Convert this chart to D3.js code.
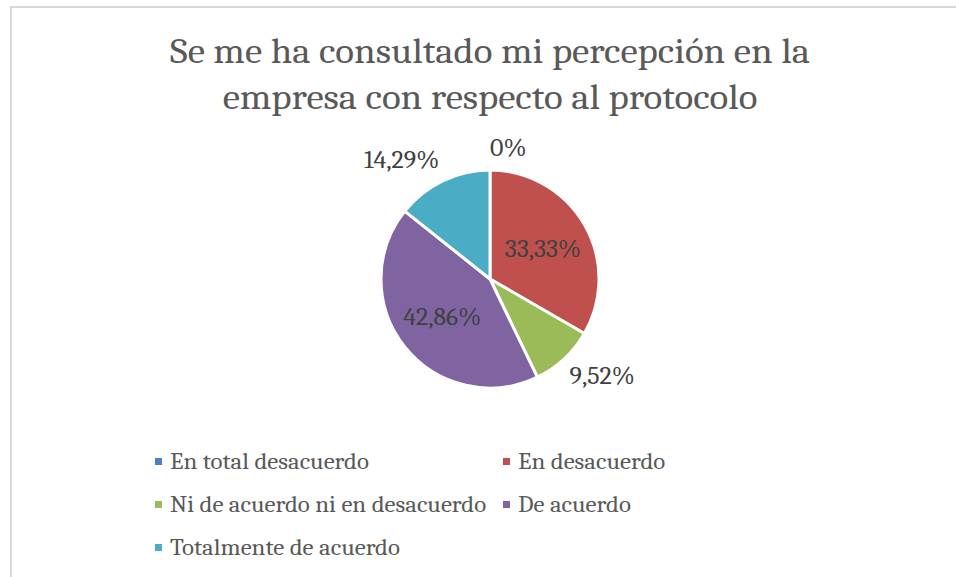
<!DOCTYPE html>
<html>
<head>
<meta charset="utf-8">
<script src="https://cdn.jsdelivr.net/npm/d3@7"></script>
<style>
    html, body { margin: 0; padding: 0; background: #fff; }
    #chart { width: 956px; height: 577px; }
</style>
</head>
<body>
<div id="chart"></div>
<script>
'use strict';

const titleLines = ['Se me ha consultado mi percepción en la', 'empresa con respecto al protocolo'];
const categories = ['En total desacuerdo', 'En desacuerdo', 'Ni de acuerdo ni en desacuerdo', 'De acuerdo', 'Totalmente de acuerdo'];
const values = [0, 33.33, 9.52, 42.86, 14.29];
const valueLabels = ['0%', '33,33%', '9,52%', '42,86%', '14,29%'];
const colors = ['#4f81bd', '#c0504d', '#9bbb59', '#8064a2', '#4bacc6'];

const width = 956;
const height = 577;
const font = 'Cambria, "DejaVu Serif", serif';
// the original picture is a bit wider than tall, so stretch text sideways
const stretch = 1.08;

const svg = d3.select('#chart')
    .append('svg')
    .attr('width', width)
    .attr('height', height);

// chart area border (runs off the right and bottom edge)
svg.append('rect')
    .attr('x', 11)
    .attr('y', 7)
    .attr('width', width + 20)
    .attr('height', height + 20)
    .attr('fill', '#fff')
    .attr('stroke', '#d9d9d9')
    .attr('stroke-width', 2);

svg.append('g')
    .selectAll('text')
    .data(titleLines)
    .join('text')
    .attr('transform', (d, i) => `translate(490,${63 + i * 46}) scale(${stretch},1)`)
    .attr('text-anchor', 'middle')
    .attr('fill', '#595959')
    .style('font-family', font)
    .style('font-size', '36px')
    .text(d => d);

const cx = 490, cy = 279, r = 109;

const pie = d3.pie().sort(null).value(d => d.value);
const arcs = pie(categories.map((c, i) => ({ name: c, value: values[i], label: valueLabels[i], color: colors[i] })));

const arc = d3.arc().innerRadius(0).outerRadius(r);

const g = svg.append('g').attr('transform', `translate(${cx},${cy})`);

g.selectAll('path')
    .data(arcs)
    .join('path')
    .attr('d', arc)
    .attr('fill', d => d.data.color)
    .attr('stroke', '#fff')
    .attr('stroke-width', 3)
    .attr('stroke-linejoin', 'round');

// big slices get their label inside, small ones outside next to the rim
const inner = d3.arc().innerRadius(r * 0.56).outerRadius(r * 0.56);
const rim = r + 8;
const isInside = d => d.data.value > 20;
const midAngle = d => (d.startAngle + d.endAngle) / 2;

g.selectAll('text.value')
    .data(arcs)
    .join('text')
    .attr('class', 'value')
    .attr('transform', d => {
        let p;
        if (isInside(d)) {
            p = inner.centroid(d);
        } else {
            const a = midAngle(d);
            p = [Math.sin(a) * rim, -Math.cos(a) * rim];
        }
        return `translate(${p[0]},${p[1]}) scale(${stretch},1)`;
    })
    .attr('text-anchor', d => isInside(d) ? 'middle' : (Math.sin(midAngle(d)) >= 0 ? 'start' : 'end'))
    .attr('dy', d => isInside(d) ? '0.35em' : (Math.cos(midAngle(d)) > 0 ? '-0.25em' : '0.8em'))
    .attr('fill', '#404040')
    .style('font-family', font)
    .style('font-size', '24px')
    .text(d => d.data.label);

// legend, two columns
const legend = svg.append('g')
    .style('font-family', font)
    .style('font-size', '23px');

const item = legend.selectAll('g')
    .data(arcs)
    .join('g')
    .attr('transform', (d, i) => `translate(${i % 2 ? 503 : 155},${462 + Math.floor(i / 2) * 43})`);

item.append('rect')
    .attr('x', 0)
    .attr('y', -4)
    .attr('width', 7)
    .attr('height', 7)
    .attr('fill', d => d.data.color);

item.append('text')
    .attr('transform', `translate(15,0) scale(${stretch},1)`)
    .attr('dy', '0.3em')
    .attr('fill', '#595959')
    .text(d => d.data.name);
</script>
</body>
</html>
